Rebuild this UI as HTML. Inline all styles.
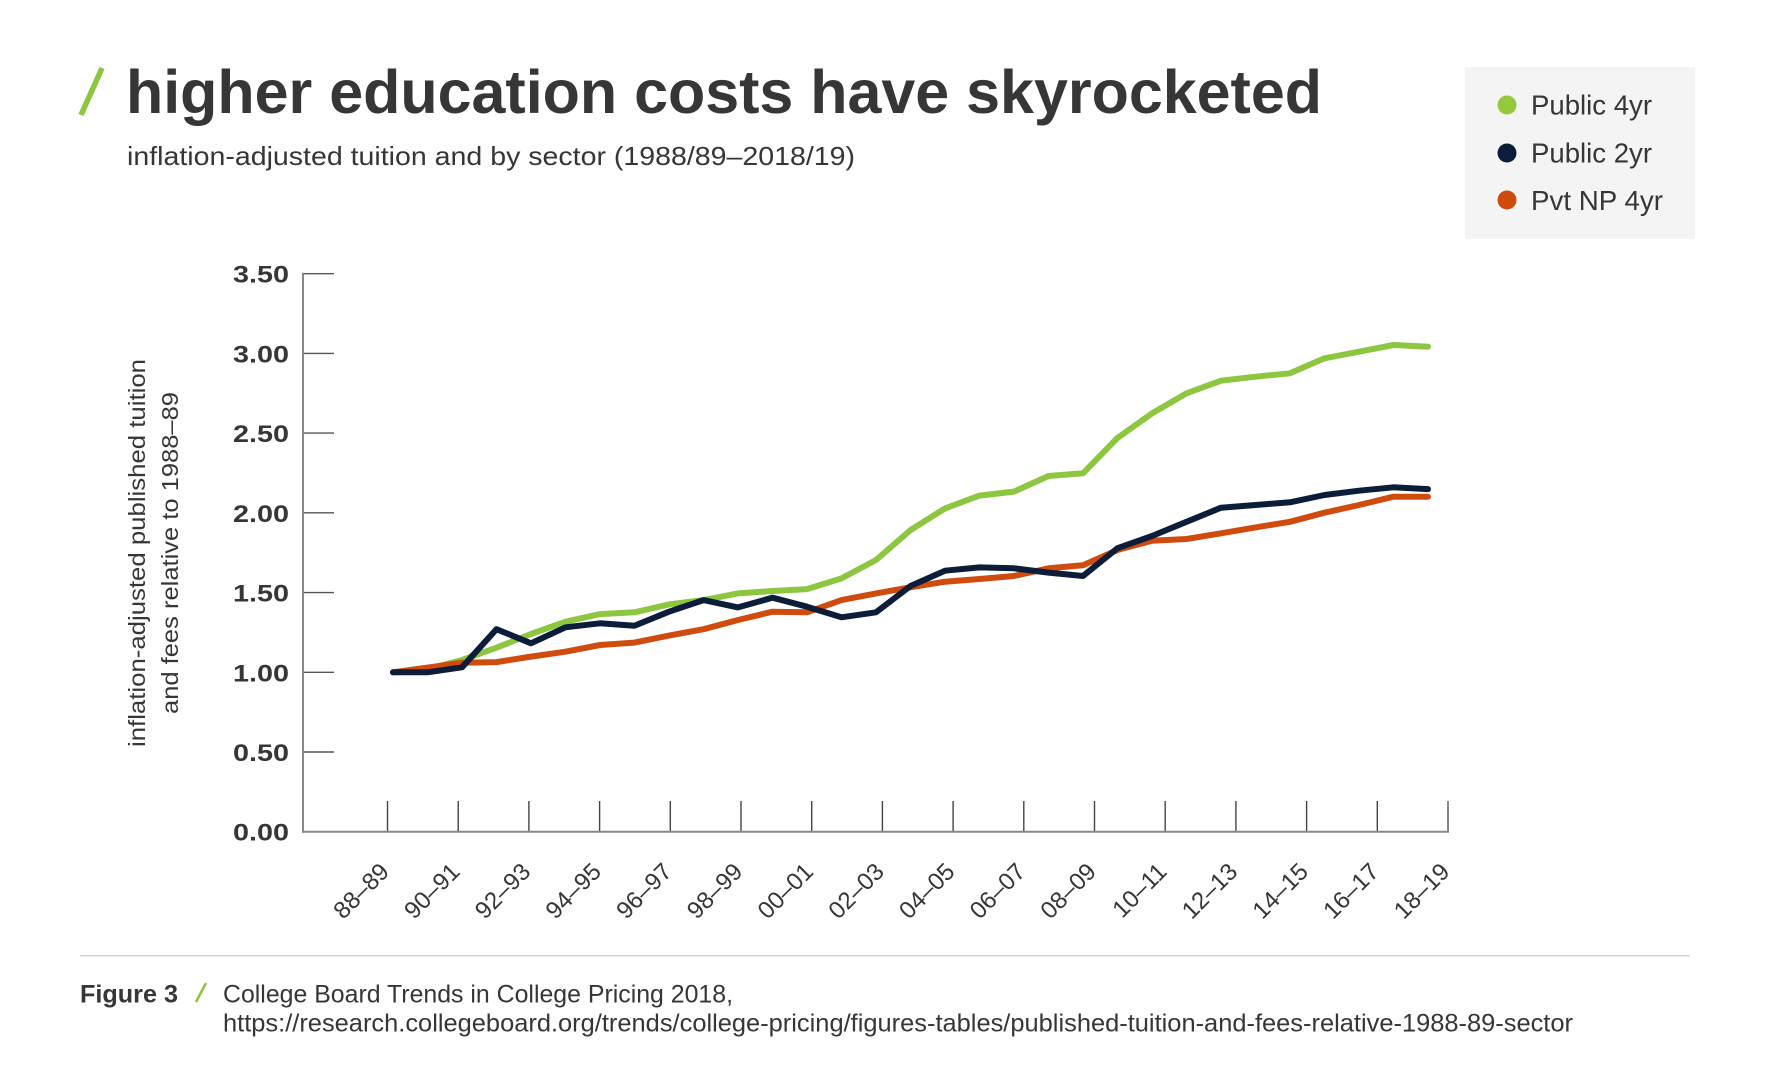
<!DOCTYPE html>
<html>
<head>
<meta charset="utf-8">
<style>
html,body{margin:0;padding:0;background:#fff;}
svg{display:block;}
text{font-family:"Liberation Sans",Arial,sans-serif;fill:#363636;}
</style>
</head>
<body>
<svg width="1765" height="1069" viewBox="0 0 1765 1069" xmlns="http://www.w3.org/2000/svg">
<rect x="0" y="0" width="1765" height="1069" fill="#ffffff"/>

<!-- Title -->
<line x1="81" y1="115" x2="102" y2="68" stroke="#8dc63f" stroke-width="5.5"/>
<text x="126" y="113" font-size="61" font-weight="bold" textLength="1196" lengthAdjust="spacingAndGlyphs" fill="#383838">higher education costs have skyrocketed</text>
<text x="127" y="165" font-size="26" textLength="728" lengthAdjust="spacingAndGlyphs" fill="#3a3a3a">inflation-adjusted tuition and by sector (1988/89–2018/19)</text>

<!-- Legend -->
<rect x="1465" y="67" width="230" height="172" fill="#f4f4f4"/>
<circle cx="1507" cy="105" r="9.5" fill="#95c93d"/>
<circle cx="1507" cy="153" r="9.5" fill="#0c1d3a"/>
<circle cx="1507" cy="200" r="9.5" fill="#d04b0e"/>
<text x="1531" y="114.5" font-size="28" textLength="121" lengthAdjust="spacingAndGlyphs">Public 4yr</text>
<text x="1531" y="162.5" font-size="28" textLength="121" lengthAdjust="spacingAndGlyphs">Public 2yr</text>
<text x="1531" y="210" font-size="28" textLength="132" lengthAdjust="spacingAndGlyphs">Pvt NP 4yr</text>

<!-- Y axis label -->
<text transform="translate(145,553) rotate(-90)" text-anchor="middle" font-size="23" textLength="388" lengthAdjust="spacingAndGlyphs" fill="#3a3a3a">inflation-adjusted published tuition</text>
<text transform="translate(178,553) rotate(-90)" text-anchor="middle" font-size="23" textLength="322" lengthAdjust="spacingAndGlyphs" fill="#3a3a3a">and fees relative to 1988–89</text>

<!-- Y tick labels -->
<g font-size="24" font-weight="bold" text-anchor="end" fill="#363636">
<text x="289" y="282.7" textLength="56" lengthAdjust="spacingAndGlyphs">3.50</text>
<text x="289" y="362.4" textLength="56" lengthAdjust="spacingAndGlyphs">3.00</text>
<text x="289" y="442.1" textLength="56" lengthAdjust="spacingAndGlyphs">2.50</text>
<text x="289" y="521.8" textLength="56" lengthAdjust="spacingAndGlyphs">2.00</text>
<text x="289" y="601.6" textLength="56" lengthAdjust="spacingAndGlyphs">1.50</text>
<text x="289" y="681.3" textLength="56" lengthAdjust="spacingAndGlyphs">1.00</text>
<text x="289" y="761.0" textLength="56" lengthAdjust="spacingAndGlyphs">0.50</text>
<text x="289" y="840.7" textLength="56" lengthAdjust="spacingAndGlyphs">0.00</text>
</g>

<!-- Y ticks -->
<g stroke="#555" stroke-width="1.4">
<line x1="303" y1="273.7" x2="334" y2="273.7"/>
<line x1="303" y1="353.4" x2="334" y2="353.4"/>
<line x1="303" y1="433.1" x2="334" y2="433.1"/>
<line x1="303" y1="512.8" x2="334" y2="512.8"/>
<line x1="303" y1="592.6" x2="334" y2="592.6"/>
<line x1="303" y1="672.3" x2="334" y2="672.3"/>
<line x1="303" y1="752.0" x2="334" y2="752.0"/>
</g>

<!-- X ticks -->
<g stroke="#444" stroke-width="1.4">
<line x1="387.5" y1="801" x2="387.5" y2="832"/>
<line x1="458.2" y1="801" x2="458.2" y2="832"/>
<line x1="528.9" y1="801" x2="528.9" y2="832"/>
<line x1="599.6" y1="801" x2="599.6" y2="832"/>
<line x1="670.3" y1="801" x2="670.3" y2="832"/>
<line x1="741.0" y1="801" x2="741.0" y2="832"/>
<line x1="811.7" y1="801" x2="811.7" y2="832"/>
<line x1="882.4" y1="801" x2="882.4" y2="832"/>
<line x1="953.1" y1="801" x2="953.1" y2="832"/>
<line x1="1023.8" y1="801" x2="1023.8" y2="832"/>
<line x1="1094.5" y1="801" x2="1094.5" y2="832"/>
<line x1="1165.2" y1="801" x2="1165.2" y2="832"/>
<line x1="1235.9" y1="801" x2="1235.9" y2="832"/>
<line x1="1306.6" y1="801" x2="1306.6" y2="832"/>
<line x1="1377.3" y1="801" x2="1377.3" y2="832"/>
</g>
<line x1="1448" y1="801" x2="1448" y2="832" stroke="#888" stroke-width="2"/>

<!-- Axes -->
<line x1="303" y1="272.7" x2="303" y2="832.7" stroke="#888" stroke-width="2"/>
<line x1="302" y1="831.7" x2="1449" y2="831.7" stroke="#888" stroke-width="2"/>

<!-- X labels -->
<g font-size="24" text-anchor="end" fill="#363636">
<text transform="translate(390.5,873) rotate(-45)">88–89</text>
<text transform="translate(461.2,873) rotate(-45)">90–91</text>
<text transform="translate(531.9,873) rotate(-45)">92–93</text>
<text transform="translate(602.6,873) rotate(-45)">94–95</text>
<text transform="translate(673.3,873) rotate(-45)">96–97</text>
<text transform="translate(744.0,873) rotate(-45)">98–99</text>
<text transform="translate(814.7,873) rotate(-45)">00–01</text>
<text transform="translate(885.4,873) rotate(-45)">02–03</text>
<text transform="translate(956.1,873) rotate(-45)">04–05</text>
<text transform="translate(1026.8,873) rotate(-45)">06–07</text>
<text transform="translate(1097.5,873) rotate(-45)">08–09</text>
<text transform="translate(1168.2,873) rotate(-45)">10–11</text>
<text transform="translate(1238.9,873) rotate(-45)">12–13</text>
<text transform="translate(1309.6,873) rotate(-45)">14–15</text>
<text transform="translate(1380.3,873) rotate(-45)">16–17</text>
<text transform="translate(1451.0,873) rotate(-45)">18–19</text>
</g>

<!-- Series -->
<g fill="none" stroke-width="6" stroke-linejoin="round" stroke-linecap="round">
<polyline stroke="#8dc63f" points="393,672.3 427.5,669.2 462,660.0 496.5,647.7 531,634.0 565.5,621.7 600,614.1 634.5,612.3 669,604.4 703.5,600.1 738,593.4 772.5,591.0 807,589.1 841.5,578.4 876,560.0 910.5,530.1 945,508.4 979.5,495.6 1014,491.6 1048.5,476.0 1083,473.3 1117.5,437.9 1152,413.4 1186.5,393.3 1221,380.7 1255.5,376.7 1290,373.3 1324.5,358.3 1359,351.7 1393.5,345.0 1428,346.7"/>
<polyline stroke="#d04b0e" points="393,672.3 427.5,667.6 462,662.7 496.5,662.1 531,656.6 565.5,651.7 600,645.0 634.5,642.6 669,635.6 703.5,629.2 738,620.0 772.5,611.7 807,612.3 841.5,600.1 876,593.4 910.5,587.3 945,581.7 979.5,579.0 1014,576.0 1048.5,568.3 1083,565.3 1117.5,550.0 1152,540.7 1186.5,539.0 1221,533.3 1255.5,527.4 1290,521.8 1324.5,512.7 1359,505.0 1393.5,496.7 1428,496.7"/>
<polyline stroke="#0c1d3a" points="393,672.3 427.5,672.3 462,667.3 496.5,629.2 531,643.3 565.5,627.3 600,623.3 634.5,625.7 669,611.7 703.5,600.1 738,607.4 772.5,597.7 807,606.7 841.5,617.3 876,612.3 910.5,586.0 945,570.7 979.5,567.4 1014,568.3 1048.5,572.6 1083,576.0 1117.5,548.2 1152,536.0 1186.5,521.8 1221,507.7 1255.5,505.0 1290,502.3 1324.5,495.0 1359,490.7 1393.5,487.3 1428,489.1"/>
</g>

<!-- Footer -->
<line x1="80" y1="955.7" x2="1690" y2="955.7" stroke="#d4d4d4" stroke-width="1.5"/>
<text x="80" y="1002.3" font-size="25" font-weight="bold" textLength="98" lengthAdjust="spacingAndGlyphs" fill="#363636">Figure 3</text>
<line x1="196" y1="1002" x2="206" y2="983" stroke="#8dc63f" stroke-width="2.5"/>
<text x="223" y="1002.3" font-size="25" textLength="510" lengthAdjust="spacingAndGlyphs" fill="#3a3a3a">College Board Trends in College Pricing 2018,</text>
<text x="223" y="1031.7" font-size="25" textLength="1350" lengthAdjust="spacingAndGlyphs" fill="#3a3a3a">https://research.collegeboard.org/trends/college-pricing/figures-tables/published-tuition-and-fees-relative-1988-89-sector</text>
</svg>
</body>
</html>
